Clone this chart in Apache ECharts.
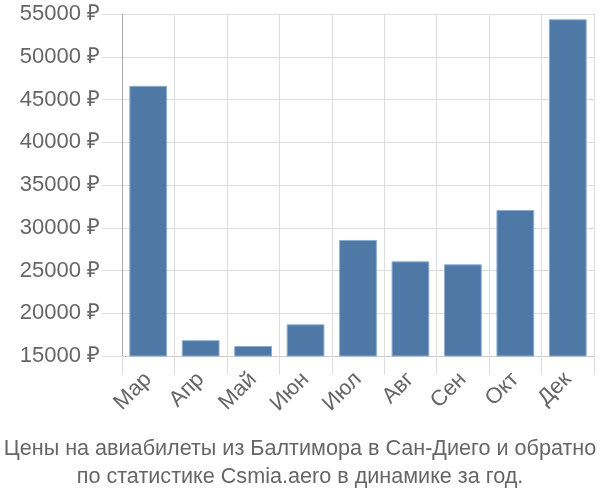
<!DOCTYPE html>
<html><head><meta charset="utf-8">
<script src="https://cdn.jsdelivr.net/npm/echarts@6/dist/echarts.min.js"></script>
<style>html,body{margin:0;padding:0;background:#fff}#c{width:600px;height:500px}</style>
</head><body><div id="c"></div>
<script>
var categories = ['Мар','Апр','Май','Июн','Июл','Авг','Сен','Окт','Дек'];
var prices = [46600, 16850, 16170, 18700, 28570, 26070, 25720, 32080, 54380];
var yMin = 15000, yMax = 55000, yStep = 5000;
var titleLines = ['Цены на авиабилеты из Балтимора в Сан-Диего и обратно', 'по статистике Csmia.aero в динамике за год.'];

var chart = echarts.init(document.getElementById('c'), null, {renderer:'canvas'});
chart.setOption({
  animation:false,
  textStyle:{fontFamily:'Liberation Sans'},
  title:{
    text:titleLines.join('\n'),
    left:'center', top:430,
    textStyle:{fontSize:21.6, fontWeight:'normal', color:'#666', lineHeight:28, fontFamily:'Liberation Sans'}
  },
  grid:{left:122, right:6, top:14, bottom:144, containLabel:false},
  xAxis:{
    type:'category', data:categories,
    axisLine:{show:true, lineStyle:{color:'#ccc'}},
    axisTick:{show:true, length:19, lineStyle:{color:'#ddd'}},
    splitLine:{show:true, lineStyle:{color:'#ddd'}},
    axisLabel:{rotate:45, fontSize:22, color:'#666', margin:20}
  },
  yAxis:{
    type:'value', min:yMin, max:yMax, interval:yStep,
    axisLine:{show:true, lineStyle:{color:'#aaa'}},
    axisTick:{show:true, length:20, lineStyle:{color:'#ddd'}},
    splitLine:{show:true, lineStyle:{color:'#ddd'}},
    axisLabel:{fontSize:22, color:'#666', margin:22, formatter:function(v){return v+' ₽';}}
  },
  series:[{
    type:'bar', data:prices, barCategoryGap:'28%',
    itemStyle:{color:'#4e79a7', borderColor:'#8eaed0', borderWidth:1}
  }]
});
</script></body></html>
